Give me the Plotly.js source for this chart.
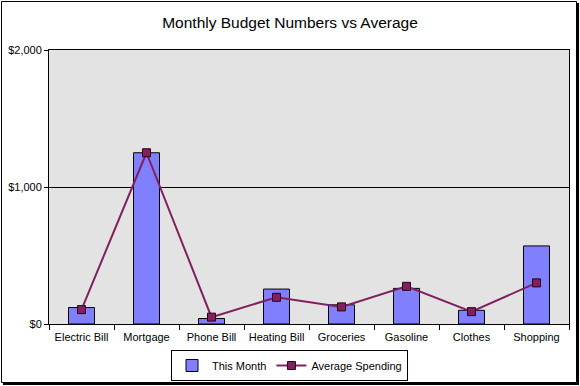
<!DOCTYPE html>
<html><head><meta charset="utf-8">
<script src="https://cdn.plot.ly/plotly-3.0.1.min.js"></script>
<style>html,body{margin:0;padding:0;background:#fff}#chart{width:580px;height:386px}</style>
</head><body><div id="chart"></div>
<script>
const categories = ["Electric Bill","Mortgage","Phone Bill","Heating Bill","Groceries","Gasoline","Clothes","Shopping"];
const thisMonth = [120, 1250, 40, 255, 140, 260, 100, 570];
const averageSpending = [105, 1250, 50, 195, 125, 275, 90, 300];

const L=49, R=569, T=50, B=324, W=580, H=386;
const px = x => (x - L)/(R - L);
const py = y => (B - y)/(B - T);

const data = [
  {type:'bar', name:'This Month', x:categories, y:thisMonth,
   marker:{color:'#8080FF', line:{color:'#000', width:1}}},
  {type:'scatter', mode:'lines+markers', name:'Average Spending', x:categories, y:averageSpending,
   line:{color:'#80205F', width:2},
   marker:{symbol:'square', size:8, color:'#80205F', line:{color:'#2a0018', width:1}}}
];

const layout = {
  width:W, height:H,
  margin:{l:L, r:W-R, t:T, b:H-B, autoexpand:false},
  paper_bgcolor:'#fff', plot_bgcolor:'#E3E3E3',
  font:{family:'Liberation Sans, Arial, sans-serif', size:11, color:'#000'},
  title:{text:'Monthly Budget Numbers vs Average', font:{size:15.5, color:'#000'},
         x:0.5, xanchor:'center', y:1-22.5/H, yanchor:'middle'},
  bargap:0.6,
  showlegend:true,
  legend:{orientation:'h', x:px(289.5), xanchor:'center', y:py(350), yanchor:'top',
          bgcolor:'#fff', bordercolor:'#000', borderwidth:1, font:{size:11},
          traceorder:'normal'},
  xaxis:{type:'category', showline:true, linecolor:'#000', linewidth:1, mirror:true,
         ticks:'outside', tickson:'boundaries', ticklen:5, tickcolor:'#000', ticklabelstandoff:3,
         showgrid:false, fixedrange:true, automargin:false},
  yaxis:{range:[0,2000], dtick:1000, tickprefix:'$', tickformat:',',
         showline:true, linecolor:'#000', linewidth:1, mirror:true,
         ticks:'outside', ticklen:4, tickcolor:'#000', automargin:false,
         showgrid:true, gridcolor:'#000', gridwidth:1, zeroline:false},
  shapes:[
    {type:'rect', xref:'paper', yref:'paper', x0:px(1.5), x1:px(576.5), y0:py(382.5), y1:py(1.5),
     line:{color:'#000', width:1}},
    {type:'line', xref:'paper', yref:'paper', x0:px(578), x1:px(578), y0:py(384), y1:py(3),
     line:{color:'#000', width:2}},
    {type:'line', xref:'paper', yref:'paper', x0:px(3), x1:px(579), y0:py(384), y1:py(384),
     line:{color:'#000', width:2}}
  ]
};

Plotly.newPlot('chart', data, layout, {displayModeBar:false, staticPlot:true});
</script></body></html>
